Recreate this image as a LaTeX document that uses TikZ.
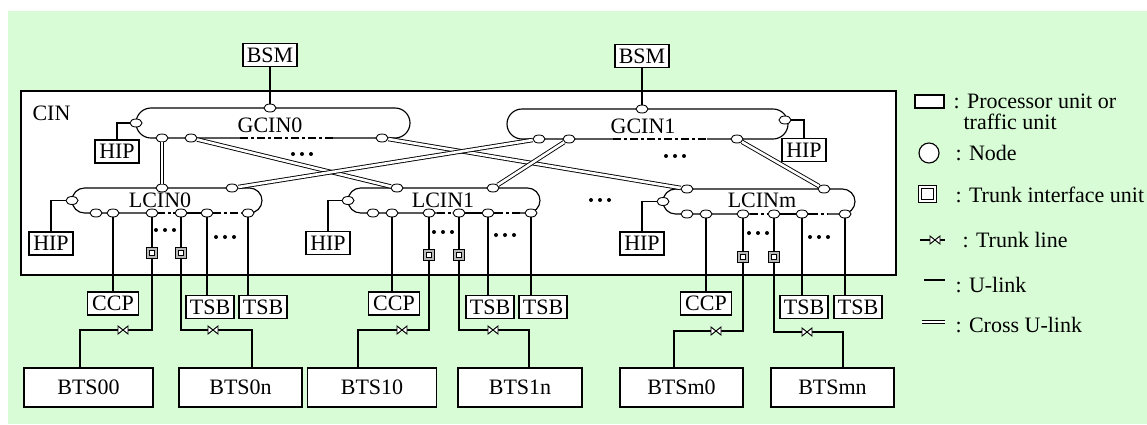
\documentclass[tikz,border=0pt]{standalone}
\usepackage{fontspec}
\setmainfont{Liberation Serif}
\usetikzlibrary{shapes.geometric}
\definecolor{panelgreen}{RGB}{216,253,214}
\begin{document}
\begin{tikzpicture}[x=1pt,y=-1pt,line width=1.15pt,
  txt/.style={font=\fontsize{22}{24}\selectfont, inner sep=0pt},
  unit/.style={draw, fill=white, inner sep=0pt, minimum width=48pt, minimum height=23pt, txt},
  bts/.style={unit, minimum height=39pt},
  nd/.style={draw, fill=white, ellipse, inner sep=0pt, minimum width=12pt, minimum height=8pt, line width=0.9pt},
  tiu/.style={draw, double=gray!55, double distance=2pt, line width=0.8pt, fill=white, inner sep=0pt, minimum size=8.5pt},
  xlink/.style={double=white, double distance=2.6pt, line width=0.9pt},
  dashdot/.style={dash pattern=on 8pt off 3pt on 3pt off 3pt},
  bowtie/.pic={\draw[line width=0.9pt, fill=white] (-5,-4) -- (5,4) -- (5,-4) -- (-5,4) -- cycle;},
  dots/.pic={\foreach \k in {-9,0,9} \fill (\k,0) circle (2pt);}
]
\useasboundingbox (0,0) rectangle (1147,424);
\fill[panelgreen] (8,11) rectangle (1147,424);

% CIN enclosure
\draw[fill=white, line width=1.3pt] (21,91) rectangle (896,275);
\node[txt, anchor=base west] (cin) at (32,120) {CIN};

% ring outlines (bottom sides partly dash-dotted)
\draw[rounded corners=15pt] (240,138) -- (136,138) -- (136,108) -- (410,108) -- (410,138) -- (333,138);
\draw[dashdot] (240,138) -- (333,138);
\draw[rounded corners=15pt] (613,139) -- (507,139) -- (507,109) -- (788,109) -- (788,139) -- (707,139);
\draw[dashdot] (613,139) -- (707,139);
\draw[rounded corners=12.5pt] (157,213) -- (72,213) -- (72,188) -- (262,188) -- (262,213) -- (241,213);
\draw (173,213) -- (213,213);
\draw[dashdot] (157,213) -- (173,213) (213,213) -- (241,213);
\draw[rounded corners=12.5pt] (437,213) -- (348,213) -- (348,188) -- (540,188) -- (540,213) -- (520,213);
\draw (453,213) -- (495,213);
\draw[dashdot] (437,213) -- (453,213) (495,213) -- (520,213);
\draw[rounded corners=12.5pt] (750,214) -- (663,214) -- (663,189) -- (855,189) -- (855,214) -- (828,214);
\draw (767,214) -- (810,214);
\draw[dashdot] (750,214) -- (767,214) (810,214) -- (828,214);

% ring labels
\node[txt, anchor=base] (g0lab) at (270,132) {GCIN0};
\node[txt, anchor=base] (g1lab) at (643,133) {GCIN1};
\node[txt, anchor=base] (l0lab) at (160,207) {LCIN0};
\node[txt, anchor=base] (l1lab) at (443,207) {LCIN1};
\node[txt, anchor=base] (lmlab) at (762,207) {LCINm};

% ring nodes
\node[nd] (g0t) at (270,108) {};
\node[nd] (g0l) at (136,123) {};
\node[nd] (g0a) at (162,138) {};
\node[nd] (g0b) at (191,138) {};
\node[nd] (g0c) at (382,138) {};
\node[nd] (g1t) at (642,109) {};
\node[nd] (g1r) at (785,120) {};
\node[nd] (g1a) at (539,139) {};
\node[nd] (g1b) at (569,139) {};
\node[nd] (g1c) at (737,139) {};

\node[nd] (l0l) at (72,200.5) {};
\node[nd] (l0t1) at (162,188) {};
\node[nd] (l0t2) at (232,188) {};
\node[nd] (l0a) at (96,213) {};
\node[nd] (l0b) at (113,213) {};
\node[nd] (l0c) at (152,213) {};
\node[nd] (l0d) at (181,213) {};
\node[nd] (l0e) at (207,213) {};
\node[nd] (l0f) at (248,213) {};

\node[nd] (l1l) at (348,200.5) {};
\node[nd] (l1t1) at (397,188) {};
\node[nd] (l1t2) at (493,188) {};
\node[nd] (l1a) at (373,213) {};
\node[nd] (l1b) at (392,213) {};
\node[nd] (l1c) at (429,213) {};
\node[nd] (l1d) at (459,213) {};
\node[nd] (l1e) at (488,213) {};
\node[nd] (l1f) at (531,213) {};

\node[nd] (lml) at (663,201.5) {};
\node[nd] (lmt1) at (687,189) {};
\node[nd] (lmt2) at (824,189) {};
\node[nd] (lma) at (687,214) {};
\node[nd] (lmb) at (706,214) {};
\node[nd] (lmc) at (743,214) {};
\node[nd] (lmd) at (774,214) {};
\node[nd] (lme) at (802,214) {};
\node[nd] (lmf) at (845,214) {};

% cross U-links
\draw[xlink] (g0a) -- (l0t1);
\draw[xlink] (g0b) -- (l1t1);
\draw[xlink] (g0c) -- (lmt1);
\draw[xlink] (g1a) -- (l0t2);
\draw[xlink] (g1b) -- (l1t2);
\draw[xlink] (g1c) -- (lmt2);

% BSM
\node[unit, minimum width=54pt] (bsm0) at (270,55) {BSM};
\node[unit, minimum width=54pt] (bsm1) at (642,56) {BSM};
\draw (bsm0) -- (g0t);
\draw (bsm1) -- (g1t);

% HIP units
\node[unit, minimum width=44pt] (hipg0) at (117,151.5) {HIP};
\node[unit, minimum width=44pt] (hipg1) at (804,150) {HIP};
\node[unit, minimum width=44pt] (hipl0) at (51,243.5) {HIP};
\node[unit, minimum width=44pt] (hipl1) at (328,243) {HIP};
\node[unit, minimum width=44pt] (hiplm) at (642,243.5) {HIP};
\draw (g0l) -| (hipg0);
\draw (g1r) -| (hipg1);
\draw (l0l) -| (hipl0);
\draw (l1l) -| (hipl1);
\draw (lml) -| (hiplm);

% CCP and TSB units
\node[unit, minimum width=51pt] (ccp0) at (113,303.5) {CCP};
\node[unit, minimum width=51pt] (ccp1) at (394,303.5) {CCP};
\node[unit, minimum width=51pt] (ccpm) at (706,303.5) {CCP};
\node[unit] (tsb0a) at (210,307) {TSB};
\node[unit] (tsb0b) at (263,307) {TSB};
\node[unit] (tsb1a) at (490,307) {TSB};
\node[unit] (tsb1b) at (543,307) {TSB};
\node[unit] (tsbma) at (804,307) {TSB};
\node[unit] (tsbmb) at (858,307) {TSB};
\draw (l0b) -- (l0b |- ccp0.north);
\draw (l1b) -- (l1b |- ccp1.north);
\draw (lmb) -- (lmb |- ccpm.north);
\draw (l0e) -- (l0e |- tsb0a.north);
\draw (l0f) -- (l0f |- tsb0b.north);
\draw (l1e) -- (l1e |- tsb1a.north);
\draw (l1f) -- (l1f |- tsb1b.north);
\draw (lme) -- (lme |- tsbma.north);
\draw (lmf) -- (lmf |- tsbmb.north);

% BTS units
\node[bts, minimum width=129pt] (bts00) at (88.5,387.5) {BTS00};
\node[bts, minimum width=123pt] (bts0n) at (240.5,387.5) {BTS0n};
\node[bts, minimum width=129pt] (bts10) at (372,387.5) {BTS10};
\node[bts, minimum width=124pt] (bts1n) at (520,387.5) {BTS1n};
\node[bts, minimum width=123pt] (btsm0) at (681.5,387.5) {BTSm0};
\node[bts, minimum width=123pt] (btsmn) at (832.5,387.5) {BTSmn};

% trunk interface units and trunk lines
\node[tiu] (tiu0a) at (152,253) {};
\node[tiu] (tiu0b) at (181,253) {};
\node[tiu] (tiu1a) at (429,255) {};
\node[tiu] (tiu1b) at (459,255) {};
\node[tiu] (tiuma) at (743,257) {};
\node[tiu] (tiumb) at (774,257) {};
\coordinate (k0a) at (80,330);
\coordinate (k0b) at (252,330);
\coordinate (k1a) at (358,330);
\coordinate (k1b) at (529,330);
\coordinate (kma) at (674,331);
\coordinate (kmb) at (843,332);
\draw (l0c) -- (tiu0a); \draw (tiu0a) |- (k0a) -- (k0a |- bts00.north);
\draw (l0d) -- (tiu0b); \draw (tiu0b) |- (k0b) -- (k0b |- bts0n.north);
\draw (l1c) -- (tiu1a); \draw (tiu1a) |- (k1a) -- (k1a |- bts10.north);
\draw (l1d) -- (tiu1b); \draw (tiu1b) |- (k1b) -- (k1b |- bts1n.north);
\draw (lmc) -- (tiuma); \draw (tiuma) |- (kma) -- (kma |- btsm0.north);
\draw (lmd) -- (tiumb); \draw (tiumb) |- (kmb) -- (kmb |- btsmn.north);
\pic at (123,330) {bowtie};
\pic at (213,330) {bowtie};
\pic at (402,330) {bowtie};
\pic at (493,330) {bowtie};
\pic at (716,331) {bowtie};
\pic at (807,332) {bowtie};

% ellipsis marks
\pic at (302,154) {dots};
\pic at (675,156) {dots};
\pic at (600,200) {dots};
\pic at (165,230) {dots};
\pic at (225,237) {dots};
\pic at (443,232) {dots};
\pic at (505,235) {dots};
\pic at (758,233) {dots};
\pic at (819,237) {dots};

% legend
\node[draw, fill=white, inner sep=0pt, minimum width=29pt, minimum height=13pt] (lgbox) at (929.5,101.5) {};
\node[txt, anchor=base west] (lgboxt) at (953,108) {: Processor unit or};
\node[txt, anchor=base west] (lgboxt2) at (963,129) {traffic unit};
\node[draw, fill=white, circle, inner sep=0pt, minimum size=20pt] (lgnode) at (929,153) {};
\node[txt, anchor=base west] (lgnodet) at (955,160) {: Node};
\node[draw, double=white, double distance=2.2pt, line width=0.9pt, fill=white, inner sep=0pt, minimum size=14.5pt] (lgtiu) at (927.5,194) {};
\node[txt, anchor=base west] (lgtiut) at (955,202) {: Trunk interface unit};
\coordinate (lgtr1) at (920,240);
\coordinate (lgtr2) at (945,240);
\draw (lgtr1) -- (lgtr2);
\pic at (935,240) {bowtie};
\node[txt, anchor=base west] (lgtrt) at (962,247) {: Trunk line};
\coordinate (lgu1) at (924,280);
\coordinate (lgu2) at (945,280);
\draw (lgu1) -- (lgu2);
\node[txt, anchor=base west] (lgut) at (955,292) {: U-link};
\coordinate (lgx1) at (922,322);
\coordinate (lgx2) at (945,322);
\draw[xlink] (lgx1) -- (lgx2);
\node[txt, anchor=base west] (lgxt) at (955,332) {: Cross U-link};
\end{tikzpicture}
\end{document}
